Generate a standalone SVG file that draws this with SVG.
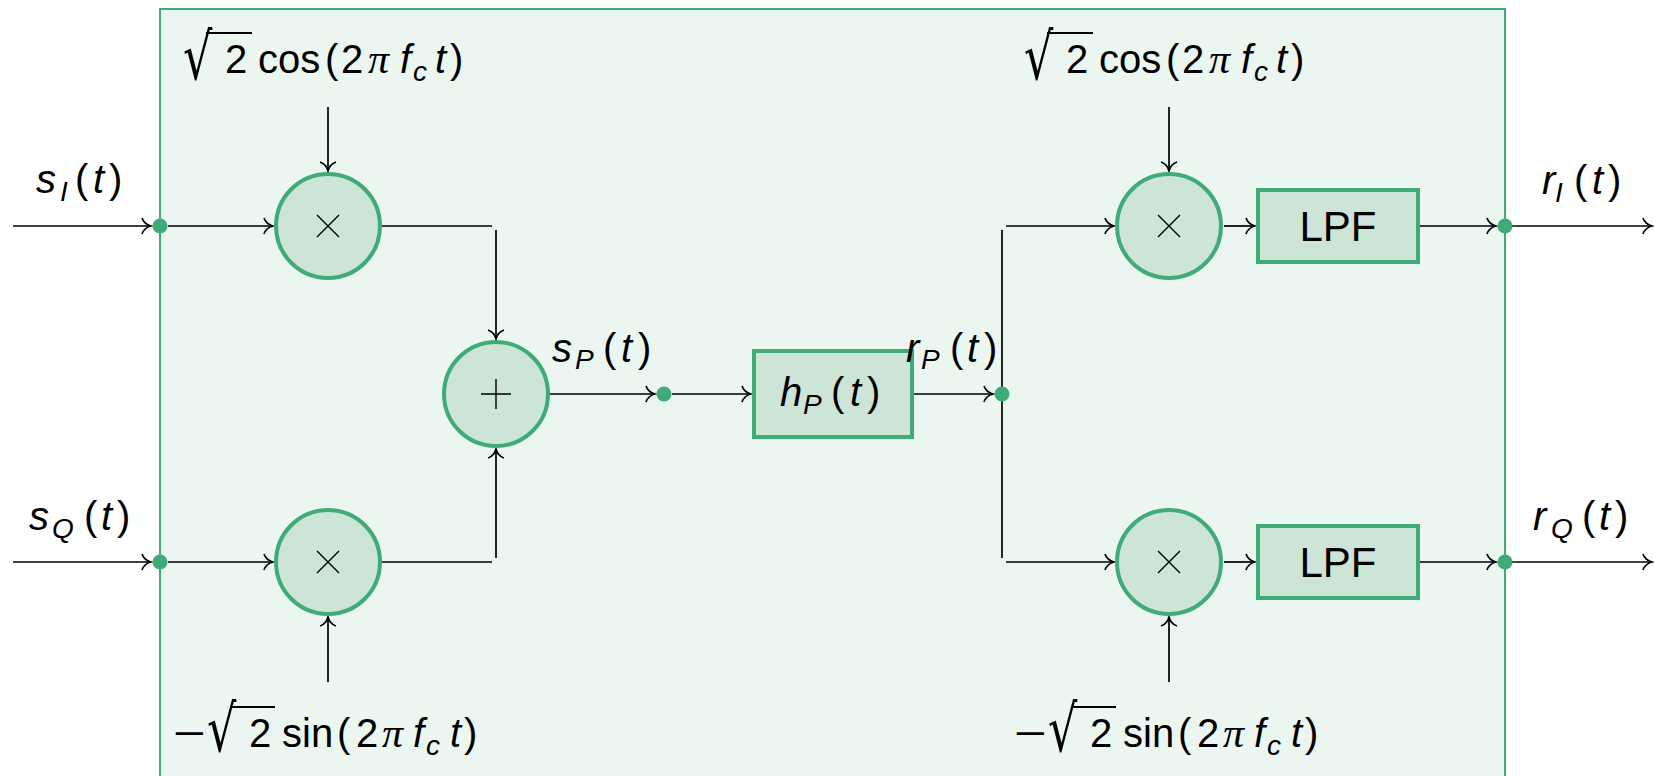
<svg xmlns="http://www.w3.org/2000/svg" width="1654" height="776" viewBox="0 0 1654 776">
<defs>
<style>
.frame{fill:#ecf6f1;stroke:#3fab77;stroke-width:2}
.nd{fill:#cce5d6;stroke:#3fab77;stroke-width:4}
.dot{fill:#3fab77}
.w{fill:none;stroke:#000;stroke-width:1.7}
.a{marker-end:url(#arr)}
.sym{stroke:#000;stroke-width:1.4;fill:none}
text{font-family:"Liberation Sans",Arial,sans-serif;font-size:40px;fill:#000}
.i{font-style:italic}
.sb{font-size:28px;font-style:italic}
.pi{font-family:"Liberation Serif",serif;font-style:italic;font-size:42px}
.rad{font-family:"DejaVu Sans",sans-serif;font-size:46px}
.bar{stroke:#000;stroke-width:2.2;fill:none}
</style>
<marker id="arr" markerUnits="userSpaceOnUse" viewBox="-11 -10 13 20" refX="0" refY="0" markerWidth="13" markerHeight="20" orient="auto" overflow="visible">
<path d="M-9,-8 C-7.5,-3.5 -3,-0.8 0,0 C-3,0.8 -7.5,3.5 -9,8" fill="none" stroke="#000" stroke-width="1.7"/>
</marker>
</defs>

<g id="frame"><rect class="frame" x="160" y="9" width="1345" height="800"/></g>

<g id="connectors">
<path class="w a" d="M13,226 H151"/>
<path class="w a" d="M168,226 H273"/>
<path class="w a" d="M328,107 V171"/>
<path class="w" d="M382,226 H492"/>
<path class="w a" d="M496,230 V339"/>
<path class="w a" d="M13,562 H151"/>
<path class="w a" d="M168,562 H273"/>
<path class="w a" d="M328,682 V617"/>
<path class="w" d="M382,562 H492"/>
<path class="w a" d="M496,558 V449"/>
<path class="w a" d="M550,394 H655"/>
<path class="w a" d="M672,394 H751"/>
<path class="w a" d="M914,394 H993"/>
<path class="w" d="M1002,230 V558"/>
<path class="w a" d="M1006,226 H1114"/>
<path class="w a" d="M1006,562 H1114"/>
<path class="w a" d="M1169,107 V171"/>
<path class="w a" d="M1169,682 V617"/>
<path class="w a" d="M1224,226 H1255"/>
<path class="w a" d="M1224,562 H1255"/>
<path class="w a" d="M1419,226 H1496"/>
<path class="w a" d="M1419,562 H1496"/>
<path class="w a" d="M1512,226 H1652"/>
<path class="w a" d="M1512,562 H1652"/>
</g>

<g id="dot-in-I"><circle class="dot" cx="160" cy="226" r="7.5"/></g>
<g id="dot-in-Q"><circle class="dot" cx="160" cy="562" r="7.5"/></g>
<g id="dot-sP"><circle class="dot" cx="664" cy="394" r="7.5"/></g>
<g id="dot-rP"><circle class="dot" cx="1002" cy="394" r="7.5"/></g>
<g id="dot-out-I"><circle class="dot" cx="1505" cy="226" r="7.5"/></g>
<g id="dot-out-Q"><circle class="dot" cx="1505" cy="562" r="7.5"/></g>

<g id="mult-tx-I"><circle class="nd" cx="328" cy="226" r="52"/><path class="sym" d="M317,215 L339,237 M339,215 L317,237"/></g>
<g id="mult-tx-Q"><circle class="nd" cx="328" cy="562" r="52"/><path class="sym" d="M317,551 L339,573 M339,551 L317,573"/></g>
<g id="adder"><circle class="nd" cx="496" cy="394" r="52"/><path class="sym" d="M481,394 H511 M496,379 V409"/></g>
<g id="channel"><rect class="nd" x="754" y="351" width="158" height="86"/>
<text y="406"><tspan class="i" x="780">h</tspan><tspan class="sb" x="803" y="414">P</tspan><tspan x="831" y="406">(</tspan><tspan class="i" x="850">t</tspan><tspan x="867">)</tspan></text></g>
<g id="mult-rx-I"><circle class="nd" cx="1169" cy="226" r="52"/><path class="sym" d="M1158,215 L1180,237 M1180,215 L1158,237"/></g>
<g id="mult-rx-Q"><circle class="nd" cx="1169" cy="562" r="52"/><path class="sym" d="M1158,551 L1180,573 M1180,551 L1158,573"/></g>
<g id="lpf-I"><rect class="nd" x="1258" y="190" width="160" height="72"/><text x="1338" y="241" text-anchor="middle" style="font-size:42px">LPF</text></g>
<g id="lpf-Q"><rect class="nd" x="1258" y="526" width="160" height="72"/><text x="1338" y="577" text-anchor="middle" style="font-size:42px">LPF</text></g>

<g id="labels">
<text y="193"><tspan class="i" x="36">s</tspan><tspan class="sb" x="60" y="201">I</tspan><tspan x="75" y="193">(</tspan><tspan class="i" x="93">t</tspan><tspan x="109">)</tspan></text>
<text y="530"><tspan class="i" x="29">s</tspan><tspan class="sb" x="52" y="538">Q</tspan><tspan x="84" y="530">(</tspan><tspan class="i" x="101">t</tspan><tspan x="117">)</tspan></text>
<text y="362"><tspan class="i" x="552">s</tspan><tspan class="sb" x="575" y="369">P</tspan><tspan x="603" y="362">(</tspan><tspan class="i" x="621">t</tspan><tspan x="638">)</tspan></text>
<text y="362"><tspan class="i" x="906">r</tspan><tspan class="sb" x="921" y="369">P</tspan><tspan x="950" y="362">(</tspan><tspan class="i" x="967">t</tspan><tspan x="984">)</tspan></text>
<text y="194"><tspan class="i" x="1542">r</tspan><tspan class="sb" x="1555" y="202">I</tspan><tspan x="1574" y="194">(</tspan><tspan class="i" x="1592">t</tspan><tspan x="1608">)</tspan></text>
<text y="530"><tspan class="i" x="1533">r</tspan><tspan class="sb" x="1551" y="538">Q</tspan><tspan x="1582" y="530">(</tspan><tspan class="i" x="1599">t</tspan><tspan x="1615">)</tspan></text>

<g id="cos-tx">
<text class="rad" transform="translate(183,79) scale(1,1.4)">√</text><line class="bar" x1="206" y1="33" x2="252" y2="33"/>
<text y="73"><tspan x="225">2</tspan><tspan x="258">cos</tspan><tspan x="325">(</tspan><tspan x="341">2</tspan><tspan class="pi" x="368">π</tspan><tspan class="i" x="400">f</tspan><tspan class="sb" x="413" y="81">c</tspan><tspan class="i" x="435" y="73">t</tspan><tspan x="450">)</tspan></text>
</g>
<g id="cos-rx" transform="translate(841,0)">
<text class="rad" transform="translate(183,79) scale(1,1.4)">√</text><line class="bar" x1="206" y1="33" x2="252" y2="33"/>
<text y="73"><tspan x="225">2</tspan><tspan x="258">cos</tspan><tspan x="325">(</tspan><tspan x="341">2</tspan><tspan class="pi" x="368">π</tspan><tspan class="i" x="400">f</tspan><tspan class="sb" x="413" y="81">c</tspan><tspan class="i" x="435" y="73">t</tspan><tspan x="450">)</tspan></text>
</g>
<g id="sin-tx">
<text transform="translate(173,747) scale(1.4,1)">−</text>
<text class="rad" transform="translate(207,751) scale(1,1.4)">√</text><line class="bar" x1="230" y1="707" x2="275" y2="707"/>
<text y="747"><tspan x="249">2</tspan><tspan x="282">sin</tspan><tspan x="337">(</tspan><tspan x="356">2</tspan><tspan class="pi" x="382">π</tspan><tspan class="i" x="413">f</tspan><tspan class="sb" x="426" y="755">c</tspan><tspan class="i" x="450" y="747">t</tspan><tspan x="464">)</tspan></text>
</g>
<g id="sin-rx" transform="translate(841,0)">
<text transform="translate(173,747) scale(1.4,1)">−</text>
<text class="rad" transform="translate(207,751) scale(1,1.4)">√</text><line class="bar" x1="230" y1="707" x2="275" y2="707"/>
<text y="747"><tspan x="249">2</tspan><tspan x="282">sin</tspan><tspan x="337">(</tspan><tspan x="356">2</tspan><tspan class="pi" x="382">π</tspan><tspan class="i" x="413">f</tspan><tspan class="sb" x="426" y="755">c</tspan><tspan class="i" x="450" y="747">t</tspan><tspan x="464">)</tspan></text>
</g>
</g>
</svg>
